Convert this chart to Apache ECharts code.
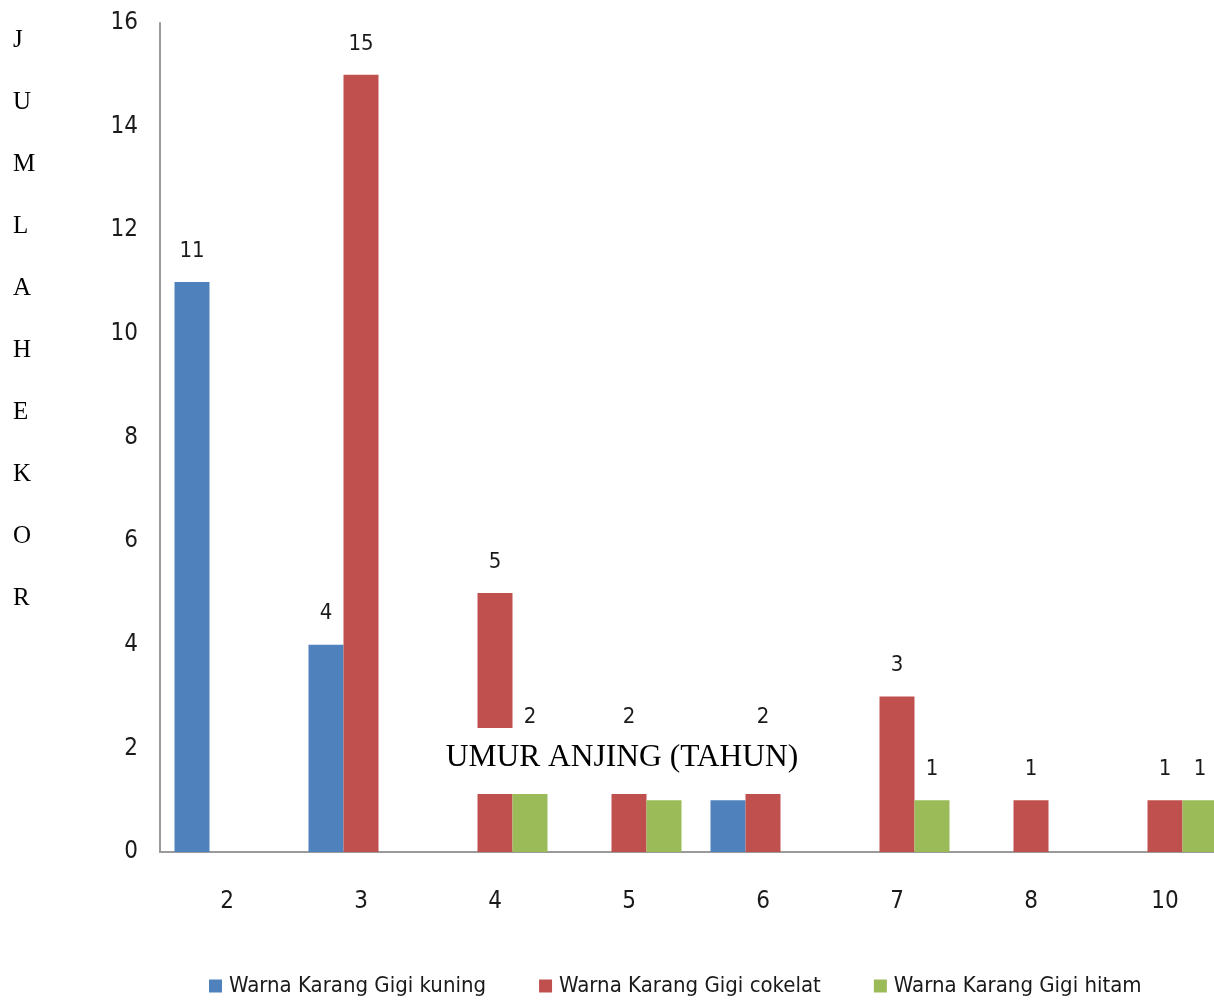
<!DOCTYPE html>
<html>
<head>
<meta charset="utf-8">
<script src="https://cdn.jsdelivr.net/npm/echarts@6/dist/echarts.min.js"></script>
<style>
html,body{margin:0;padding:0;background:#fff;overflow:hidden;}
#c{width:1260px;height:1003px;}
</style>
</head>
<body>
<div id="c"></div>
<script>
const categories = ['2', '3', '4', '5', '6', '7', '8', '10'];
const kuning  = [11, 4, 0, 0, 1, 0, 0, 0];
const cokelat = [0, 15, 5, 2, 2, 3, 1, 1];
const hitam   = [0, 0, 2, 1, 0, 1, 0, 1];
const seriesNames = ['Warna Karang Gigi kuning', 'Warna Karang Gigi cokelat', 'Warna Karang Gigi hitam'];
const yTicks = {min: 0, max: 16, interval: 2};
const yTitle = 'JUMLAH EKOR';
const xTitle = 'UMUR ANJING (TAHUN)';

const NARROW = '"Liberation Sans Narrow", "DejaVu Sans Condensed", "Roboto", sans-serif';
const SERIF = '"Liberation Serif", "DejaVu Serif", serif';
const colors = ['#4F81BD', '#C0504D', '#9BBB59'];

const chart = echarts.init(document.getElementById('c'), null, {renderer: 'canvas'});

function mkSeries(name, data, color) {
  return {
    name: name,
    type: 'bar',
    data: data,
    barWidth: 35,
    barGap: '0%',
    itemStyle: {color: color, borderWidth: 0},
    label: {
      show: true,
      position: 'top',
      distance: 20,
      fontFamily: NARROW,
      fontSize: 22,
      color: '#1a1a1a',
      formatter: p => (p.value ? String(p.value) : '')
    },
    emphasis: {disabled: true},
    animation: false
  };
}

chart.setOption({
  animation: false,
  color: colors,
  grid: {left: 160, top: 23, width: 1072, bottom: 151, containLabel: false},
  xAxis: {
    type: 'category',
    data: categories,
    axisLine: {show: true, lineStyle: {color: '#9a9a9a', width: 2}},
    axisTick: {show: false},
    axisLabel: {fontFamily: NARROW, fontSize: 24, color: '#1a1a1a', margin: 38},
    splitLine: {show: false}
  },
  yAxis: {
    type: 'value',
    min: yTicks.min,
    max: yTicks.max,
    interval: yTicks.interval,
    axisLine: {show: true, lineStyle: {color: '#9a9a9a', width: 2}},
    axisTick: {show: false},
    axisLabel: {fontFamily: NARROW, fontSize: 24, color: '#1a1a1a', margin: 22},
    splitLine: {show: false}
  },
  legend: {
    left: 209,
    top: 975,
    padding: 0,
    itemWidth: 13,
    itemHeight: 13,
    itemGap: 53,
    icon: 'rect',
    textStyle: {fontFamily: NARROW, fontSize: 22, color: '#1a1a1a', padding: [0, 0, 0, 2]},
    data: seriesNames
  },
  series: [
    mkSeries(seriesNames[0], kuning, colors[0]),
    mkSeries(seriesNames[1], cokelat, colors[1]),
    mkSeries(seriesNames[2], hitam, colors[2])
  ],
  graphic: [
    {
      type: 'text',
      z: 100,
      x: 13,
      y: 9,
      style: {
        text: yTitle.replace(/ /g, '').split('').join('\n'),
        font: '25px ' + SERIF,
        fill: '#000',
        lineHeight: 62,
        align: 'left',
        verticalAlign: 'top'
      }
    },
    {
      type: 'rect',
      z: 100,
      shape: {x: 436, y: 728, width: 372, height: 66},
      style: {fill: '#fff'}
    },
    {
      type: 'text',
      z: 101,
      x: 622,
      y: 758,
      style: {
        text: xTitle,
        font: '31.5px ' + SERIF,
        fill: '#000',
        align: 'center',
        verticalAlign: 'middle'
      }
    }
  ]
});
</script>
</body>
</html>
